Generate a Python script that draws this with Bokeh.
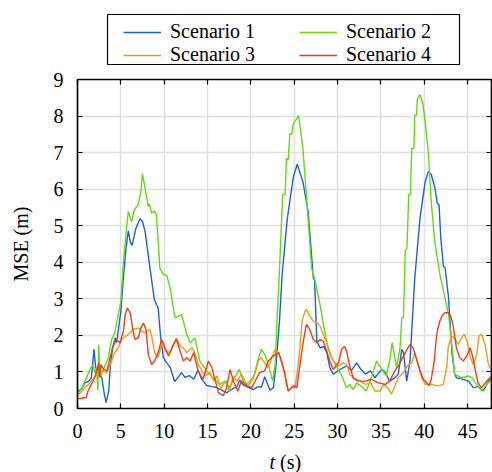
from bokeh.plotting import figure
from bokeh.layouts import column
from bokeh.models import (Range1d, LinearAxis, FixedTicker, Legend, LegendItem, Label,
                          BoxAnnotation)
from bokeh.embed import file_html
from bokeh.resources import INLINE

# ---------------- data ----------------
x_ticks = [0, 5, 10, 15, 20, 25, 30, 35, 40, 45]
y_ticks = [0, 1, 2, 3, 4, 5, 6, 7, 8, 9]
series_names = ["Scenario 1", "Scenario 2", "Scenario 3", "Scenario 4"]

t1 = [0, 0.5, 0.87, 1.3, 1.6, 1.9, 2.1, 2.4, 2.8, 3.1, 3.3, 3.6, 3.8, 4.05, 4.35, 4.5, 4.7, 5.0, 5.3, 5.6,
      5.86, 6.1, 6.3, 6.7, 7.2, 7.5, 7.8, 8.36, 8.86, 9.1, 9.3, 9.6, 9.9, 10.3, 10.7, 11.2, 11.6, 12.0,
      12.4, 12.9, 13.4, 13.9, 14.3, 14.9, 15.5, 16.0, 16.8, 17.2, 17.98, 18.4, 18.7, 19.1, 19.5, 20.3,
      20.8, 21.2, 21.6, 22.2, 22.6, 22.9, 23.3, 23.6, 24.2, 24.9, 25.35, 26.0, 26.6, 27.2, 27.35, 27.6,
      27.97, 28.4, 28.75, 29.1, 29.5, 30.1, 30.66, 31.05, 31.6, 32.2, 32.6, 33.2, 33.8, 34.3, 35.1, 35.5,
      36.0, 36.6, 37.0, 37.4, 37.6, 37.97, 38.35, 38.9, 39.5, 40.1, 40.46, 40.8, 41.2, 41.5, 41.7, 41.9,
      42.2, 42.4, 42.8, 43.2, 43.5, 43.7, 44.3, 45.1, 45.65, 46.2, 46.8, 47.4, 47.8]
y1 = [0.45, 0.55, 0.7, 0.75, 0.84, 1.62, 1.12, 1.03, 0.84, 0.39, 0.16, 0.48, 1.2, 1.66, 1.93, 1.8, 2.12, 2.66, 3.6, 4.4,
      4.86, 4.55, 4.46, 4.9, 5.19, 5.12, 4.84, 3.84, 2.98, 2.85, 2.75, 1.93, 1.39, 1.25, 1.12, 0.74, 0.85, 0.98,
      0.85, 0.9, 0.8, 1.05, 0.81, 0.63, 0.6, 0.58, 0.48, 0.43, 0.55, 0.6, 0.78, 0.65, 0.6, 0.52,
      0.6, 0.58, 0.87, 0.5, 0.57, 1.2, 2.4, 3.66, 5.2, 6.34, 6.68, 6.2, 5.39, 3.57, 3.5, 1.84,
      1.66, 1.7, 1.53, 1.12, 0.94, 1.04, 1.12, 1.16, 1.04, 1.25, 1.1, 0.94, 1.03, 0.84, 1.07, 0.99,
      0.75, 0.84, 0.94, 1.62, 1.53, 0.75, 1.3, 3.57, 5.2, 6.2, 6.48, 6.4, 6.07, 5.61, 5.57, 4.66,
      3.89, 3.85, 3.02, 1.5, 0.95, 0.84, 0.81, 0.75, 0.57, 0.6, 0.48, 0.75, 0.84]

t2 = [0, 0.5, 0.87, 1.44, 1.8, 2.0, 2.2, 2.35, 2.45, 2.6, 3.0, 3.55, 3.94, 4.3, 4.7, 5.0, 5.3, 5.6, 5.86, 6.25,
      6.55, 7.0, 7.3, 7.5, 7.8, 8.17, 8.3, 8.56, 8.9, 9.1, 9.5, 9.9, 10.3, 10.67, 11.25, 12.0, 12.6, 13.0,
      13.55, 14.1, 14.9, 15.6, 16.4, 17.0, 17.55, 18.1, 18.67, 19.1, 19.7, 20.3, 20.67, 21.2, 21.6, 22.0,
      22.5, 22.8, 23.05, 23.4, 23.66, 23.95, 24.1, 24.3, 24.5, 24.7, 24.9, 25.3, 25.5, 26.0, 26.4, 27.0,
      27.4, 27.97, 28.5, 28.9, 29.3, 30.5, 31.0, 31.4, 31.8, 32.2, 32.8, 33.3, 33.9, 34.5, 35.1, 35.6,
      36.0, 36.3, 36.8, 37.2, 37.4, 37.6, 37.8, 38.0, 38.2, 38.4, 38.55, 38.8, 38.9, 39.1, 39.2, 39.5,
      39.8, 40.1, 40.46, 40.8, 41.2, 41.8, 42.3, 42.8, 43.2, 43.5, 44.3, 45.1, 45.5, 46.05, 46.6, 47.2, 47.8]
y2 = [0.4, 0.55, 0.75, 1.07, 1.2, 0.98, 1.1, 0.5, 1.75, 0.85, 1.07, 1.39, 1.89, 2.07, 2.57, 2.93, 4.02, 4.8, 5.39, 5.11,
      5.43, 5.57, 5.93, 6.42, 6.02, 5.52, 5.6, 5.34, 5.4, 5.3, 3.84, 3.66, 3.64, 3.3, 2.48, 2.57, 2.03, 1.8,
      1.93, 1.3, 1.03, 0.84, 0.66, 0.75, 0.57, 0.84, 1.07, 0.75, 0.62, 0.84, 1.2, 1.62, 1.48, 1.2,
      0.75, 1.2, 2.57, 4.34, 5.84, 5.86, 6.84, 6.8, 7.52, 7.5, 7.79, 7.93, 8.02, 7.11, 5.84, 3.84,
      3.5, 2.84, 2.12, 1.66, 1.39, 0.89, 0.57, 0.66, 0.52, 0.7, 0.6, 0.48, 0.84, 1.3, 1.07, 0.89,
      1.3, 1.8, 1.12, 1.66, 2.48, 2.5, 4.3, 4.39, 5.84, 5.86, 7.11, 7.12, 8.02, 8.02, 8.47, 8.59,
      8.38, 7.84, 7.02, 5.66, 4.57, 3.66, 3.12, 2.57, 1.66, 0.94, 0.84, 0.89, 0.84, 0.66, 0.48, 0.66, 0.8]

t3 = [0, 0.87, 1.6, 2.1, 2.65, 3.36, 3.94, 4.3, 4.7, 5.1, 5.86, 6.44, 7.0, 7.4, 7.75, 8.36, 8.55, 8.9, 9.3, 9.8,
      10.1, 10.7, 11.4, 11.9, 12.2, 12.6, 13.2, 13.55, 13.94, 14.7, 15.3, 15.7, 16.1, 16.5, 16.8, 17.2, 17.5,
      17.97, 18.4, 18.9, 19.5, 20.1, 20.5, 20.85, 21.2, 21.6, 22.0, 22.4, 22.8, 23.2, 23.6, 23.9, 24.1, 24.3,
      24.7, 25.1, 25.4, 25.66, 25.9, 26.24, 26.4, 26.8, 27.2, 27.6, 27.97, 28.35, 28.75, 29.1, 29.5, 30.1,
      30.66, 31.05, 31.4, 32.0, 32.6, 33.2, 33.8, 34.3, 34.9, 35.3, 35.9, 36.2, 36.6, 37.0, 37.6, 38.15,
      38.55, 38.9, 39.3, 39.7, 40.1, 40.8, 41.6, 42.2, 42.6, 42.75, 43.1, 43.5, 43.9, 44.3, 44.6, 45.0,
      45.3, 45.65, 46.05, 46.3, 46.6, 47.0, 47.4, 47.8]
y3 = [0.35, 0.57, 0.75, 0.89, 1.03, 0.98, 1.3, 1.53, 1.66, 1.89, 2.03, 2.16, 2.2, 2.12, 2.07, 2.16, 1.98, 1.53, 1.39, 1.84,
      1.57, 1.53, 1.93, 1.7, 1.66, 1.53, 1.66, 1.53, 1.2, 0.89, 0.98, 0.75, 0.89, 0.53, 0.66, 0.75, 0.48,
      0.89, 0.75, 0.94, 0.66, 0.8, 0.98, 1.3, 1.39, 1.25, 1.12, 1.39, 1.62, 1.53, 1.2, 1.0, 0.66, 0.48,
      0.57, 0.57, 1.12, 1.66, 2.39, 2.66, 2.71, 2.53, 2.39, 2.35, 2.26, 2.03, 1.8, 1.53, 1.3, 1.16,
      1.25, 1.2, 0.94, 0.8, 0.75, 0.66, 0.7, 0.48, 0.48, 0.66, 0.53, 0.39, 0.6, 0.84, 0.98, 1.2,
      1.25, 1.53, 1.2, 0.84, 0.66, 0.66, 0.62, 0.66, 1.16, 1.66, 1.98, 1.93, 1.75, 1.93, 2.03, 1.8,
      1.39, 1.2, 1.48, 1.98, 2.03, 1.75, 1.2, 1.03]

t4 = [0, 0.5, 1.0, 1.2, 1.5, 1.9, 2.1, 2.3, 2.45, 2.55, 2.7, 3.0, 3.4, 3.75, 4.1, 4.5, 4.9, 5.3, 5.5, 5.75,
      6.1, 6.4, 6.63, 7.0, 7.3, 7.6, 7.9, 8.17, 8.55, 8.9, 9.3, 9.7, 10.1, 10.5, 11.05, 11.4, 11.8, 12.2,
      12.6, 13.0, 13.4, 13.9, 14.5, 15.1, 15.5, 15.9, 16.25, 16.8, 17.2, 17.6, 17.97, 18.5, 18.9, 19.5,
      20.1, 20.6, 21.0, 21.6, 22.0, 22.6, 23.2, 23.6, 24.0, 24.3, 24.9, 25.3, 25.66, 26.05, 26.4, 26.8,
      27.2, 27.6, 27.97, 28.35, 28.75, 29.1, 29.5, 30.1, 30.46, 30.8, 31.05, 31.4, 31.8, 32.4, 33.2, 33.9,
      34.7, 35.5, 36.0, 36.6, 37.0, 37.8, 38.35, 38.7, 39.1, 39.5, 39.9, 40.3, 40.55, 40.8, 41.15, 41.35,
      41.5, 41.8, 42.1, 42.4, 42.75, 43.05, 43.3, 43.7, 44.1, 44.5, 44.9, 45.3, 45.6, 45.9, 46.2, 46.6,
      47.2, 47.8]
y4 = [0.27, 0.28, 0.3, 0.47, 0.62, 0.8, 0.94, 1.1, 1.25, 0.85, 1.2, 1.07, 1.03, 1.39, 1.7, 1.89, 1.8, 2.12, 2.57, 2.75,
      2.6, 2.12, 1.89, 1.93, 2.2, 2.34, 2.16, 1.48, 1.2, 1.3, 1.53, 1.89, 1.66, 1.44, 1.75, 1.89, 1.6, 1.3,
      1.39, 1.3, 1.53, 1.03, 0.8, 1.3, 1.12, 0.75, 0.44, 0.35, 0.57, 1.07, 0.75, 0.48, 0.75, 0.62,
      0.57, 0.8, 0.98, 1.03, 1.3, 1.44, 1.53, 1.25, 0.84, 0.48, 0.62, 0.57, 1.2, 1.84, 2.3, 2.16,
      1.89, 1.8, 1.89, 1.84, 1.57, 1.3, 1.07, 1.25, 1.62, 1.7, 1.57, 1.16, 0.84, 0.75, 0.75, 0.8,
      0.7, 0.66, 0.75, 1.03, 1.16, 1.53, 1.75, 1.66, 1.35, 1.03, 0.8, 0.7, 0.62, 0.8, 1.3, 1.84,
      2.12, 2.4, 2.55, 2.62, 2.62, 2.53, 2.3, 1.66, 1.39, 1.3, 1.44, 1.66, 1.39, 1.03, 0.7, 0.57,
      0.75, 0.89]

colors = ["#1a62d6", "#66d916", "#e99d1f", "#ef3d18"]
series_t = [t1, t2, t3, t4]
series_y = [y1, y2, y3, y4]

FONT = "Liberation Serif"
W = 492
LEG_H = 70                 # legend strip
MAIN_TOP, FRAME_H, MAIN_BOT = 9, 329, 12
MAIN_H = MAIN_TOP + FRAME_H + MAIN_BOT
LAB_H = 472 - LEG_H - MAIN_H  # tick labels + axis title strip
FRAME_L = 77               # frames of the stacked figures are aligned at this x


def bare_figure(height, **kw):
    f = figure(width=W, height=height, output_backend="svg", toolbar_location=None,
               y_range=Range1d(0, 1), y_axis_location=None,
               min_border_left=0, min_border_right=0, min_border_top=0, min_border_bottom=0, **kw)
    f.grid.visible = False
    f.outline_line_color = None
    return f


# ---------------- legend strip ----------------
pl = bare_figure(LEG_H, x_range=Range1d(0, 1), x_axis_location=None)
# one-point stand-ins (outside the strip's range) that only carry each series' style for the legend
leg_renderers = [pl.line(x=[tx[-1]], y=[vy[-1]], line_color=c, line_width=1.4)
                 for tx, vy, c in zip(series_t, series_y, colors)]
items = [LegendItem(label=series_names[i], renderers=[leg_renderers[i]]) for i in [0, 2, 1, 3]]
legend = Legend(items=items, location=(123 - FRAME_L, LEG_H - 66), orientation="vertical", ncols=2,
                label_text_font=FONT, label_text_font_size="20px", label_text_color="black",
                glyph_width=38, glyph_height=20, label_height=20, label_width=129,
                label_standoff=9, spacing=0, padding=2, margin=0,
                border_line_color=None, background_fill_alpha=0.0)
pl.add_layout(legend, "center")
pl.add_layout(BoxAnnotation(left=107 - FRAME_L, right=459 - FRAME_L, bottom=LEG_H - 64, top=LEG_H - 14,
                            left_units="screen", right_units="screen",
                            bottom_units="screen", top_units="screen",
                            fill_alpha=0.0, line_color="black", line_width=1.2, line_alpha=1.0))

# ---------------- main plot ----------------
p = figure(width=W, height=MAIN_H, output_backend="svg", toolbar_location=None,
           x_range=Range1d(0, 47.75), y_range=Range1d(0, 9),
           min_border_left=FRAME_L, min_border_right=1, min_border_top=MAIN_TOP,
           min_border_bottom=MAIN_BOT)

p.outline_line_color = "black"
p.outline_line_width = 1.2

for tx, vy, c in zip(series_t, series_y, colors):
    p.line(tx, vy, line_color=c, line_width=1.4)

yax = p.yaxis[0]
yax.ticker = FixedTicker(ticks=y_ticks)
yax.major_tick_in = 5
yax.major_tick_out = 0
yax.minor_tick_line_color = None
yax.axis_line_color = "black"
yax.axis_line_width = 1.5
yax.major_tick_line_color = "black"
yax.major_tick_line_width = 1.2
yax.major_label_text_font = FONT
yax.major_label_text_font_size = "20px"
yax.major_label_text_color = "black"
yax.major_label_standoff = 14
yax.axis_label = "MSE (m)"
yax.axis_label_text_font = FONT
yax.axis_label_text_font_size = "20px"
yax.axis_label_text_font_style = "normal"
yax.axis_label_text_color = "black"
yax.axis_label_standoff = 19

# bottom axis of the plot: line and inward ticks only (its numbers sit in the strip below)
xax = p.xaxis[0]
xax.ticker = FixedTicker(ticks=x_ticks)
xax.major_tick_in = 5
xax.major_tick_out = 0
xax.minor_tick_line_color = None
xax.axis_line_color = "black"
xax.axis_line_width = 1.5
xax.major_tick_line_color = "black"
xax.major_tick_line_width = 1.2
xax.major_label_text_color = None
xax.major_label_text_font_size = "1px"
xax.major_label_standoff = 0

for loc, tick in [("above", x_ticks), ("right", y_ticks)]:
    ax = LinearAxis(ticker=FixedTicker(ticks=tick), major_tick_in=5, major_tick_out=0,
                    minor_tick_line_color=None, major_label_text_color=None,
                    major_label_text_font_size="1px",
                    major_label_standoff=0, axis_line_color="black", axis_line_width=1.5,
                    major_tick_line_color="black", major_tick_line_width=1.2)
    p.add_layout(ax, loc)

p.xgrid.ticker = FixedTicker(ticks=x_ticks)
p.ygrid.ticker = FixedTicker(ticks=y_ticks)
p.xgrid.grid_line_color = "#e0e0e0"
p.ygrid.grid_line_color = "#e0e0e0"
p.xgrid.grid_line_width = 1.5
p.ygrid.grid_line_width = 1.5

# ---------------- strip below: x tick numbers + axis title (italic t, upright (s)) ----------------
pb = bare_figure(LAB_H, x_range=p.x_range, x_axis_location="above")
bx = pb.xaxis[0]
bx.ticker = FixedTicker(ticks=x_ticks)
bx.axis_line_color = None
bx.major_tick_line_color = None
bx.minor_tick_line_color = None
bx.major_tick_in = 0
bx.major_tick_out = 0
bx.major_label_standoff = 0
bx.major_label_text_font = FONT
bx.major_label_text_font_size = "20px"
bx.major_label_text_color = "black"

pb.add_layout(Label(x=274.5 - FRAME_L, y=10.5, x_units="screen", y_units="screen", text="t",
                    text_font=FONT, text_font_size="20px", text_font_style="italic",
                    text_align="right", text_baseline="alphabetic", text_color="black"))
pb.add_layout(Label(x=279.5 - FRAME_L, y=10.5, x_units="screen", y_units="screen", text="(s)",
                    text_font=FONT, text_font_size="20px", text_font_style="normal",
                    text_align="left", text_baseline="alphabetic", text_color="black"))

layout = column(pl, p, pb, spacing=0)
open("out.html", "w").write(file_html(layout, INLINE))
